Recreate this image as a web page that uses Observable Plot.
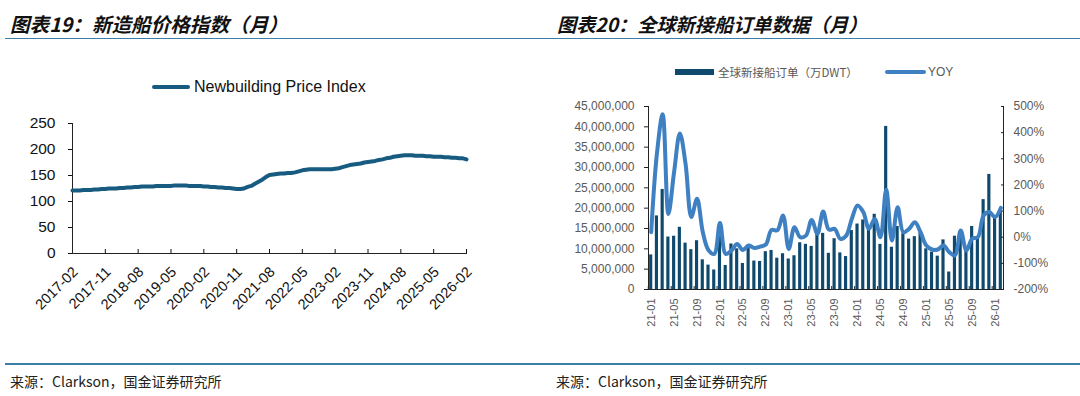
<!DOCTYPE html>
<html><head><meta charset="utf-8">
<script src="https://cdn.jsdelivr.net/npm/d3@7"></script>
<script src="https://cdn.jsdelivr.net/npm/@observablehq/plot@0.6"></script>
<style>
body{margin:0;background:#fff;}
#wrap{position:relative;width:1080px;height:396px;overflow:hidden;background:#fff;font-family:"Liberation Sans",Arial,sans-serif;}
.title{position:absolute;top:11px;font-family:"Noto Sans CJK SC";font-style:italic;font-weight:700;font-size:19.6px;line-height:26px;color:#111;white-space:nowrap;z-index:2;}
.rule{position:absolute;left:5px;width:1075px;height:1.5px;background:#3d7ea6;z-index:2;}
.src{position:absolute;top:372px;font-family:"Noto Sans CJK SC";font-size:14px;line-height:18px;color:#222;white-space:nowrap;z-index:2;}
.plot{position:absolute;top:0;}
.leg{position:absolute;white-space:nowrap;z-index:2;}
</style></head><body><div id="wrap">
<div class="title" style="left:10px">图表19：新造船价格指数（月）</div>
<div class="title" style="left:557px;font-size:19.2px">图表20：全球新接船订单数据（月）</div>
<div class="rule" style="top:37.5px"></div>
<div class="rule" style="top:363px"></div>
<div class="src" style="left:10px">来源：Clarkson，国金证券研究所</div>
<div class="src" style="left:556px">来源：Clarkson，国金证券研究所</div>
<div class="leg" style="left:152px;top:85px;width:38px;height:4px;border-radius:2px;background:#185b80"></div>
<div class="leg" style="left:194px;top:77px;font-size:16px;line-height:20px;color:#111">Newbuilding Price Index</div>
<div class="leg" style="left:675px;top:69px;width:39px;height:6px;background:#0f4a6e"></div>
<div class="leg" style="left:718px;top:64px;font-family:'Noto Sans CJK SC';font-size:11.5px;line-height:16px;color:#595959">全球新接船订单（万DWT）</div>
<div class="leg" style="left:885px;top:70px;width:41px;height:4px;border-radius:2px;background:#3e80c2"></div>
<div class="leg" style="left:928px;top:65px;font-size:12px;line-height:14px;color:#595959">YOY</div>
</div>
<script>
// ---------- Left chart: Newbuilding Price Index (monthly, 2017-02 .. 2026-02)
const priceMonths = d3.utcMonth.range(new Date(Date.UTC(2017,1,1)), new Date(Date.UTC(2026,2,1))).map(d3.utcFormat("%Y-%m"));
const priceValues = [
  121,121,121,122,122,122,123,123,124,124,125,
  125,125,126,126,127,127,128,128,129,129,129,129,
  130,130,130,130,130,131,131,131,131,130,130,130,
  130,129,129,128,128,127,127,126,126,125,124,124,
  125,128,130,134,138,142,147,151,152,153,154,154,
  155,155,156,158,160,161,162,162,162,162,162,162,
  162,163,164,166,168,170,171,172,173,175,176,177,
  178,180,181,183,184,186,187,188,189,189,189,188,
  188,188,187,187,186,186,186,185,185,184,184,183,
  183,181
];
const priceTickLabels = ["2017-02","2017-11","2018-08","2019-05","2020-02","2020-11","2021-08","2022-05","2023-02","2023-11","2024-08","2025-05","2026-02"];
const priceYTicks = [0,50,100,150,200,250];

// ---------- Right chart: global newbuilding orders (DWT) and YOY (%), 2021-01 .. 2026-02
const orderMonths = d3.utcMonth.range(new Date(Date.UTC(2021,0,1)), new Date(Date.UTC(2026,2,1))).map(d3.utcFormat("%y-%m"));
const orderMillions = [
  8.5,18.1,24.6,12.9,13.1,15.3,11.4,9.8,12.0,7.3,6.0,4.8,
  13.0,5.9,11.2,10.0,6.4,10.4,7.0,6.9,9.3,9.6,7.7,8.8,
  7.5,8.3,11.5,11.1,10.6,14.3,13.8,8.9,12.5,9.0,8.1,14.5,
  16.1,17.1,15.4,18.5,11.1,40.1,10.4,15.5,13.7,12.4,13.0,14.3,
  10.0,9.2,8.2,12.2,4.3,13.1,14.0,9.7,15.5,12.5,22.1,28.3,
  17.8,19.5
];
const yoyPct = [
  19,320,470,89,250,397,280,77,147,20,-50,-64,
  54,-64,-51,-26,-49,-32,-41,-36,-28,28,26,83,
  -45,38,0,6,66,13,98,29,32,-6,5,70,
  121,96,32,70,0,182,-13,115,19,32,57,19,
  -32,-47,-47,-32,-57,-70,26,-51,-6,0,83,96,
  77,112
];
const orderTicks = orderMonths.filter((d,i) => i % 4 === 0);
const orderYTicks = d3.range(0, 45000001, 5000000);
const yoyYTicks = [-200,-100,0,100,200,300,400,500];

const priceData = priceMonths.map((m,i) => ({m, v: priceValues[i]}));
const orderData = orderMonths.map((m,i) => ({m, v: orderMillions[i] * 1e6}));
const yoyData = orderMonths.map((m,i) => ({m, v: yoyPct[i]}));

const wrap = document.getElementById("wrap");
const baseStyle = {background:"transparent", fontFamily:"Liberation Sans, Arial, sans-serif", overflow:"visible"};

const left = Plot.plot({
  width: 540, height: 396,
  marginLeft: 72, marginRight: 74, marginTop: 123, marginBottom: 143,
  style: {...baseStyle, fontSize:"14px", color:"#111"},
  x: {type:"point", domain: priceMonths, padding: 0},
  y: {domain:[0,250]},
  marks: [
    Plot.axisY({ticks: priceYTicks, tickSize: 4, tickPadding: 13, fontSize: 15.5, label: null}),
    Plot.axisX({ticks: priceTickLabels, tickSize: -4, tickFormat: () => "", label: null}),
    Plot.axisX({ticks: priceTickLabels, tickSize: 0, tickPadding: 16, dx: 3, tickRotate: -45, fontSize: 14.5, label: null}),
    Plot.frame({anchor:"left", stroke:"#222"}),
    Plot.frame({anchor:"bottom", stroke:"#222"}),
    Plot.line(priceData, {x:"m", y:"v", stroke:"#185b80", strokeWidth:4, strokeLinejoin:"round", strokeLinecap:"round"})
  ]
});
left.classList.add("plot"); left.style.left = "0px";
wrap.appendChild(left);

const xBand = {type:"band", domain: orderMonths, paddingInner: 0.45, paddingOuter: 0.195};
const bars = Plot.plot({
  width: 540, height: 396,
  marginLeft: 108, marginRight: 77, marginTop: 106, marginBottom: 107,
  style: {...baseStyle, fontSize:"12px", color:"#595959"},
  x: xBand,
  y: {domain:[0,45000000]},
  marks: [
    Plot.barY(orderData, {x:"m", y:"v", fill:"#0f4a6e"}),
    Plot.axisY({ticks: orderYTicks, tickFormat: d3.format(","), tickSize: 4, tickPadding: 10, fontSize: 12, label: null, stroke:"#222"}),
    Plot.axisX({ticks: orderTicks, tickSize: 0, tickPadding: 9, tickRotate: -90, fontSize: 11, label: null}),
    Plot.axisX({ticks: orderTicks, tickSize: -3, dx: -2.9, tickFormat: () => "", label: null, stroke:"#222"}),
    Plot.frame({anchor:"left", stroke:"#222"}),
    Plot.frame({anchor:"bottom", stroke:"#222"})
  ]
});
bars.classList.add("plot"); bars.style.left = "540px";
wrap.appendChild(bars);

const yoy = Plot.plot({
  width: 540, height: 396,
  marginLeft: 108, marginRight: 77, marginTop: 106, marginBottom: 107,
  style: {...baseStyle, fontSize:"12px", color:"#595959"},
  x: {...xBand, axis: null},
  y: {domain:[-200,500]},
  marks: [
    Plot.axisY({anchor:"right", ticks: yoyYTicks, tickFormat: d => d + "%", tickSize: -3, tickPadding: 13, fontSize: 12, label: null, stroke:"#222"}),
    Plot.frame({anchor:"right", stroke:"#222"}),
    Plot.line(yoyData, {x:"m", y:"v", stroke:"#3e80c2", strokeWidth:4, curve:"catmull-rom", strokeLinejoin:"round", strokeLinecap:"round"})
  ]
});
yoy.classList.add("plot"); yoy.style.left = "540px";
wrap.appendChild(yoy);
</script>
</body></html>
